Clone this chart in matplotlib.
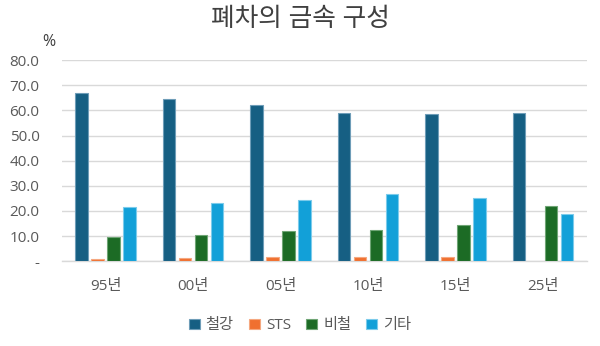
import matplotlib
matplotlib.use("Agg")
import matplotlib.pyplot as plt
import numpy as np

plt.rcParams['font.family'] = ['Open Sans', 'Noto Sans CJK KR', 'DejaVu Sans']

categories = ['95년', '00년', '05년', '10년', '15년', '25년']
series_names = ['철강', 'STS', '비철', '기타']
steel = [66.9, 64.6, 62.1, 59.0, 58.6, 59.0]
sts = [1.0, 1.4, 1.7, 1.7, 1.7, 0.0]
nonferrous = [9.7, 10.5, 11.9, 12.6, 14.5, 22.0]
other = [21.6, 23.1, 24.3, 26.7, 25.2, 18.8]
yticks = [0, 10, 20, 30, 40, 50, 60, 70, 80]
ytick_labels = ['-', '10.0', '20.0', '30.0', '40.0', '50.0', '60.0', '70.0', '80.0']

colors = ['#165F83', '#F07030', '#1C6B25', '#12A0D8']
edges = ['#6E9DB8', '#F5A880', '#6FA575', '#7CCBEB']

fig = plt.figure(figsize=(6, 3.46), dpi=100)
ax = fig.add_axes([0.103, 0.245, 0.875, 0.581])

x = np.arange(len(categories))
width = 0.143
step = 0.183
offsets = (np.arange(4) - 1.5) * step
for vals, off, c, e, name in zip([steel, sts, nonferrous, other], offsets, colors, edges, series_names):
    heights = np.array(vals)
    mask = heights > 0
    ax.bar(x[mask] + off, heights[mask], width, color=c, edgecolor=e, linewidth=0.8, label=name, zorder=3)

ax.set_xlim(-0.5, len(categories) - 0.5)
ax.set_ylim(0, 80)
ax.set_yticks(yticks)
ax.set_yticklabels(ytick_labels)
ax.set_xticks(x)
ax.set_xticklabels(categories)
ax.grid(axis='y', color='#D9D9D9', linewidth=1.0, zorder=0)
for s in ['top', 'right', 'left']:
    ax.spines[s].set_visible(False)
ax.spines['bottom'].set_color('#D9D9D9')
ax.spines['bottom'].set_linewidth(1.0)
ax.tick_params(axis='both', length=0, labelsize=11, colors='#595959')
ax.tick_params(axis='x', pad=13)
ax.tick_params(axis='y', pad=16)

fig.text(0.501, 0.945, '폐차의 금속 구성', ha='center', va='center', fontsize=18.5, color='#404040')
fig.text(0.082, 0.880, '%', ha='center', va='center', fontsize=11.5, color='#404040')

leg = fig.legend(loc='center', bbox_to_anchor=(0.5, 0.058), ncol=4, frameon=False,
                 fontsize=11, handlelength=0.7, handleheight=0.7, handletextpad=0.4,
                 columnspacing=1.0)
for t in leg.get_texts():
    t.set_color('#595959')

fig.savefig('out.png', dpi=100)
